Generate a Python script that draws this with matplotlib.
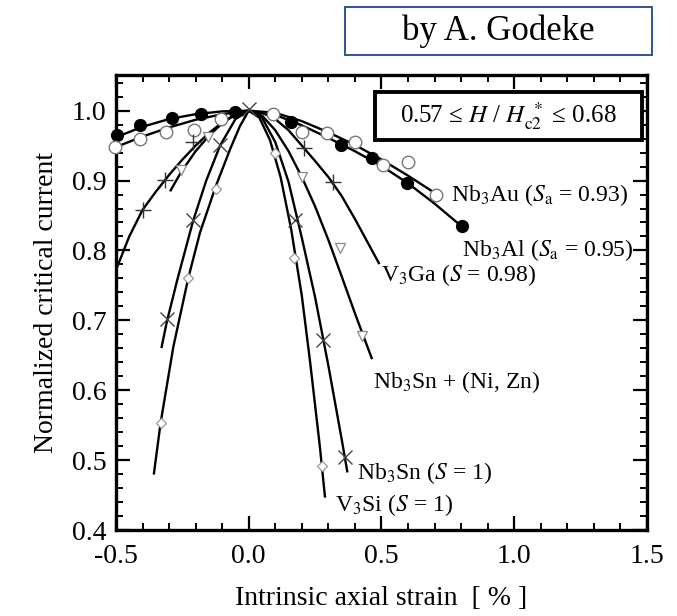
import matplotlib
matplotlib.use("Agg")
import matplotlib.pyplot as plt
from matplotlib.patches import Rectangle
from matplotlib.ticker import MultipleLocator

plt.rcParams["font.family"] = ["Liberation Serif", "DejaVu Serif"]
plt.rcParams["mathtext.fontset"] = "stix"

# fitted curves (strain in %, normalized Ic)
nb3al_line_x = [-0.5, -0.4, -0.3, -0.2, -0.1, 0.0, 0.1, 0.2, 0.3, 0.4, 0.5, 0.6, 0.7, 0.8]
nb3al_line_y = [0.962, 0.977, 0.988, 0.995, 0.999, 1.0, 0.994, 0.979, 0.961, 0.942, 0.921, 0.896, 0.867, 0.835]

nb3au_line_x = [-0.5, -0.4, -0.3, -0.2, -0.1, 0.0, 0.1, 0.2, 0.3, 0.4, 0.5, 0.6, 0.71]
nb3au_line_y = [0.948, 0.963, 0.976, 0.987, 0.995, 1.0, 0.997, 0.985, 0.969, 0.951, 0.930, 0.907, 0.880]

v3ga_line_x = [-0.5, -0.45, -0.4, -0.35, -0.3, -0.25, -0.2, -0.15, -0.1, -0.05, 0.0,
               0.05, 0.1, 0.15, 0.2, 0.25, 0.3, 0.35, 0.4, 0.45, 0.49]
v3ga_line_y = [0.772, 0.820, 0.858, 0.884, 0.908, 0.930, 0.950, 0.968, 0.983, 0.994, 1.0,
               0.997, 0.988, 0.972, 0.950, 0.928, 0.905, 0.878, 0.845, 0.810, 0.782]

nisn_line_x = [-0.294, -0.255, -0.2, -0.15, -0.1, -0.05, 0.0, 0.05, 0.1, 0.15, 0.2, 0.25, 0.3, 0.35, 0.4, 0.463]
nisn_line_y = [0.886, 0.912, 0.942, 0.964, 0.982, 0.995, 1.0, 0.993, 0.972, 0.942, 0.905, 0.863, 0.815, 0.763, 0.710, 0.646]

nb3sn_line_x = [-0.328, -0.309, -0.269, -0.209, -0.16, -0.108, -0.05, 0.0,
                0.05, 0.1, 0.15, 0.2, 0.25, 0.3, 0.35, 0.371]
nb3sn_line_y = [0.662, 0.697, 0.758, 0.843, 0.900, 0.950, 0.988, 1.0,
                0.990, 0.955, 0.898, 0.818, 0.733, 0.635, 0.530, 0.484]

v3si_line_x = [-0.357, -0.332, -0.284, -0.228, -0.184, -0.124, -0.07, -0.033, 0.0,
               0.04, 0.08, 0.12, 0.16, 0.2, 0.231, 0.268, 0.287]
v3si_line_y = [0.481, 0.553, 0.662, 0.760, 0.825, 0.892, 0.945, 0.978, 1.0,
               0.990, 0.958, 0.905, 0.830, 0.735, 0.641, 0.519, 0.448]

# measured points
nb3al_pts_x = [-0.495, -0.41, -0.29, -0.18, -0.05, 0.16, 0.346, 0.463, 0.595, 0.802]
nb3al_pts_y = [0.965, 0.980, 0.989, 0.995, 0.998, 0.984, 0.951, 0.932, 0.897, 0.835]

nb3au_pts_x = [-0.505, -0.41, -0.312, -0.206, -0.106, 0.093, 0.199, 0.294, 0.40, 0.504, 0.601, 0.705]
nb3au_pts_y = [0.948, 0.960, 0.969, 0.973, 0.988, 0.995, 0.969, 0.968, 0.955, 0.922, 0.926, 0.879]

v3ga_pts_x = [-0.40, -0.315, -0.209, 0.208, 0.318]
v3ga_pts_y = [0.858, 0.901, 0.955, 0.946, 0.898]

nisn_pts_x = [-0.255, -0.152, 0.199, 0.344, 0.425]
nisn_pts_y = [0.915, 0.963, 0.905, 0.803, 0.678]

nb3sn_pts_x = [-0.309, -0.209, -0.108, 0.0, 0.174, 0.281, 0.362]
nb3sn_pts_y = [0.702, 0.843, 0.951, 1.003, 0.844, 0.672, 0.505]

v3si_pts_x = [-0.332, -0.228, -0.124, 0.098, 0.170, 0.275]
v3si_pts_y = [0.553, 0.760, 0.888, 0.939, 0.789, 0.491]

fig = plt.figure(figsize=(6.77, 6.16), dpi=100)
ax = fig.add_axes([0.1713, 0.1396, 0.7844, 0.7386])

lines = [(nb3al_line_x, nb3al_line_y), (nb3au_line_x, nb3au_line_y),
         (v3ga_line_x, v3ga_line_y), (nisn_line_x, nisn_line_y),
         (nb3sn_line_x, nb3sn_line_y), (v3si_line_x, v3si_line_y)]
for lx, ly in lines:
    ax.plot(lx, ly, color="black", lw=1.7, zorder=2)

ax.plot(nb3al_pts_x, nb3al_pts_y, "o", ms=8.5, mfc="black", mec="black", zorder=3, clip_on=False)
ax.plot(nb3au_pts_x, nb3au_pts_y, "o", ms=9, mfc="white", mec="#777777", mew=1.0, zorder=3, clip_on=False)
ax.plot(v3ga_pts_x, v3ga_pts_y, "+", ms=12, mec="#333333", mew=1.0, zorder=3)
ax.plot(nisn_pts_x, nisn_pts_y, "v", ms=7, mfc="white", mec="#888888", mew=0.9, zorder=3)
ax.plot(nb3sn_pts_x, nb3sn_pts_y, "x", ms=10, mec="#444444", mew=1.0, zorder=3)
ax.plot(v3si_pts_x, v3si_pts_y, "D", ms=5, mfc="white", mec="#999999", mew=0.9, zorder=3)

ax.set_xlim(-0.5, 1.5)
ax.set_ylim(0.4, 1.051)
ax.xaxis.set_major_locator(MultipleLocator(0.5))
ax.xaxis.set_minor_locator(MultipleLocator(0.1))
ax.yaxis.set_major_locator(MultipleLocator(0.1))
ax.yaxis.set_minor_locator(MultipleLocator(0.02))
ax.xaxis.set_major_formatter(plt.FuncFormatter(lambda v, p: f"{v:.1f}"))
ax.yaxis.set_major_formatter(plt.FuncFormatter(lambda v, p: f"{v:.1f}"))
ax.tick_params(which="both", direction="in", top=True, right=True, labelsize=20)
ax.tick_params(which="major", length=10, width=1.6)
ax.tick_params(which="minor", length=5, width=1.4)
ax.tick_params(axis="x", pad=10)
ax.tick_params(axis="y", pad=7)
for sp in ax.spines.values():
    sp.set_linewidth(2.4)

ax.set_xlabel("Intrinsic axial strain  [ % ]", fontsize=20, labelpad=12)
ax.set_ylabel("Normalized critical current", fontsize=20, labelpad=9)

lbl = dict(fontsize=17, ha="left", va="center")
ax.text(0.763, 0.879, r"Nb$_3$Au ($S_\mathrm{a}$ = 0.93)", **lbl)
ax.text(0.804, 0.800, r"Nb$_3$Al ($S_\mathrm{a}$ = 0.95)", **lbl)
ax.text(0.500, 0.765, r"V$_3$Ga ($S$ = 0.98)", **lbl)
ax.text(0.467, 0.612, r"Nb$_3$Sn + (Ni, Zn)", **lbl)
ax.text(0.409, 0.481, r"Nb$_3$Sn ($S$ = 1)", **lbl)
ax.text(0.325, 0.436, r"V$_3$Si ($S$ = 1)", **lbl)

# field range box
ax.add_patch(Rectangle((0.476, 0.958), 1.005, 0.069, fc="white", ec="black", lw=2.8, zorder=4))
ax.text(0.978, 0.9925, r"0.57 ≤ $H$ / $H_{\mathrm{c2}}^{\ *}$ ≤ 0.68", fontsize=18,
        ha="center", va="center", zorder=5)

fig.patches.append(Rectangle((0.5096, 0.9107), 0.4535, 0.0779, transform=fig.transFigure,
                             fill=False, ec="#2f5597", lw=1.4))
fig.text(0.7356, 0.9497, "by A. Godeke", fontsize=25, ha="center", va="center")

fig.savefig("out.png", dpi=100)
